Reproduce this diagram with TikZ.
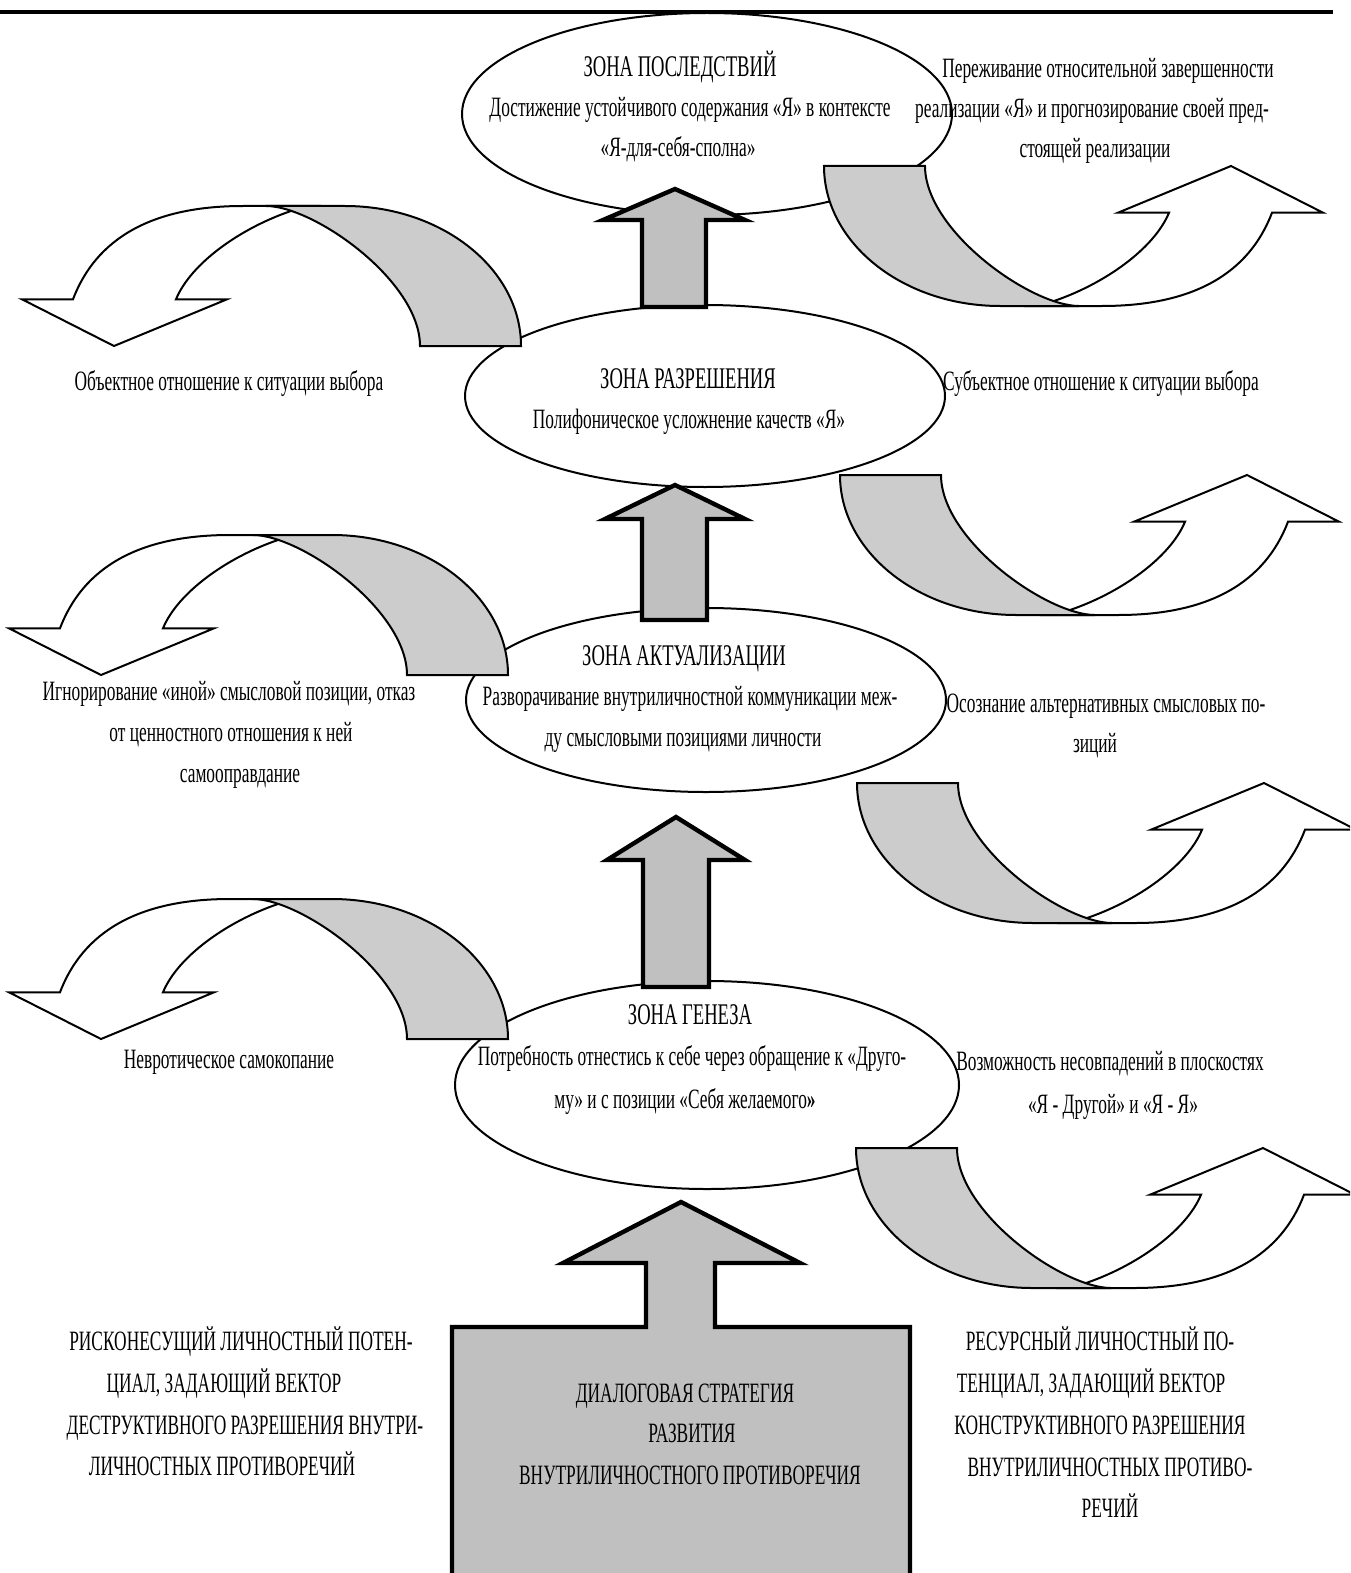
\documentclass[tikz,border=0pt]{standalone}
\usepackage{fontspec}
\setmainfont[FakeStretch=0.62]{Liberation Serif}
\usetikzlibrary{shapes.geometric}
\definecolor{arrgray}{HTML}{C0C0C0}
\definecolor{shadegray}{HTML}{CCCCCC}
\tikzset{
  zone/.style={draw, line width=1pt, ellipse, inner sep=0pt},
  txt/.style={anchor=base, inner sep=0pt, font=\fontsize{14}{16}\selectfont},
  ttl/.style={anchor=base, inner sep=0pt, font=\fontsize{15}{17}\selectfont},
  blockarr/.style={fill=arrgray, draw=black, line width=2.2pt, line join=miter},
  curvwhite/.style={fill=white, draw=black, line width=1pt},
  curvshade/.style={fill=shadegray, draw=black, line width=1pt},
  rcurv/.pic={
    \path[curvwhite] (230,135) .. controls (280,118) and (330,83) .. (345,46.7)
      -- (294,46.7) -- (407,0) -- (499,46.7) -- (448,46.7)
      .. controls (425,107) and (370,140) .. (278,140) -- (200,140) -- cycle;
    \path[curvshade] (0,0) -- (101,0) .. controls (101,65) and (207,140) .. (255,140)
      -- (176,140) .. controls (79,140) and (0,77) .. (0,0) -- cycle;
  }
}
\begin{document}
\begin{tikzpicture}[x=0.5pt,y=-0.5pt]
\useasboundingbox (0,0) rectangle (1350,1573);
\clip (0,0) rectangle (1350,1573);

% header rule
\coordinate (hl) at (0,12);
\coordinate (hr) at (1333,12);
\draw[line width=1.6pt] (hl) -- (hr);

% zones
\node[zone, minimum width=245pt, minimum height=101pt] (z1) at (707,114) {};
\node[zone, minimum width=240pt, minimum height=91pt] (z2) at (705,396) {};
\node[zone, minimum width=240pt, minimum height=92pt] (z3) at (706,700) {};
\node[zone, minimum width=252pt, minimum height=104pt] (z4) at (707,1085) {};

% curved arrows right
\pic at (824,166) {rcurv};
\pic at (840,475) {rcurv};
\pic at (857,783) {rcurv};
\pic at (856,1148) {rcurv};
% curved arrows left
\pic[rotate=180] at (521,346) {rcurv};
\pic[rotate=180] at (508,675) {rcurv};
\pic[rotate=180] at (508,1039) {rcurv};

% block arrows
\path[blockarr] (642,307) -- (642,220) -- (603,220) -- (675,189) -- (745,220) -- (706,220) -- (706,307) -- cycle;
\path[blockarr] (642,620) -- (642,519) -- (605,519) -- (675,485) -- (745,519) -- (707,519) -- (707,620) -- cycle;
\path[blockarr] (643,987) -- (643,860) -- (607,860) -- (676,817) -- (745,860) -- (709,860) -- (709,987) -- cycle;
\path[blockarr] (452,1600) -- (452,1327) -- (646,1327) -- (646,1263) -- (563,1263) -- (681,1202)
  -- (800,1263) -- (715,1263) -- (715,1327) -- (910,1327) -- (910,1600) -- cycle;

% texts zone 1
\node[ttl] (t1a) at (680,77) {ЗОНА ПОСЛЕДСТВИЙ};
\node[txt] (t1b) at (690,117) {Достижение устойчивого содержания «Я» в контексте};
\node[txt] (t1c) at (678,157) {«Я-для-себя-сполна»};
\node[txt] (r1a) at (1108,78) {Переживание относительной завершенности};
\node[txt] (r1b) at (1092,118) {реализации «Я»  и прогнозирование своей пред-};
\node[txt] (r1c) at (1095,158) {стоящей реализации};

% zone 2
\node[txt] (l2a) at (229,390) {Объектное отношение к ситуации выбора};
\node[ttl] (t2a) at (688,388) {ЗОНА РАЗРЕШЕНИЯ};
\node[txt] (t2b) at (689,428) {Полифоническое усложнение качеств «Я»};
\node[txt] (r2a) at (1101,390) {Субъектное отношение к ситуации выбора};

% zone 3
\node[txt] (l3a) at (229,700) {Игнорирование «иной» смысловой позиции, отказ};
\node[txt] (l3b) at (231,741) {от ценностного отношения к ней};
\node[txt] (l3c) at (240,782) {самооправдание};
\node[ttl] (t3a) at (684,665) {ЗОНА АКТУАЛИЗАЦИИ};
\node[txt] (t3b) at (690,705) {Разворачивание внутриличностной коммуникации меж-};
\node[txt] (t3c) at (683,746) {ду смысловыми позициями личности};
\node[txt] (r3a) at (1106,712) {Осознание альтернативных смысловых по-};
\node[txt] (r3b) at (1095,752) {зиций};

% zone 4
\node[txt] (l4a) at (229,1068) {Невротическое самокопание};
\node[ttl] (t4a) at (690,1024) {ЗОНА ГЕНЕЗА};
\node[txt] (t4b) at (692,1065) {Потребность отнестись к себе через обращение к «Друго-};
\node[txt] (t4c) at (685,1108) {му» и с позиции «Себя желаемого\textbf{»}};
\node[txt] (r4a) at (1110,1070) {Возможность несовпадений в плоскостях};
\node[txt] (r4b) at (1113,1113) {«Я - Другой» и «Я - Я»};

% bottom
\node[txt] (bl1) at (241,1350) {РИСКОНЕСУЩИЙ ЛИЧНОСТНЫЙ ПОТЕН-};
\node[txt] (bl2) at (224,1392) {ЦИАЛ, ЗАДАЮЩИЙ ВЕКТОР};
\node[txt] (bl3) at (245,1434) {ДЕСТРУКТИВНОГО РАЗРЕШЕНИЯ ВНУТРИ-};
\node[txt] (bl4) at (222,1475) {ЛИЧНОСТНЫХ ПРОТИВОРЕЧИЙ};
\node[txt] (bc1) at (685,1402) {ДИАЛОГОВАЯ СТРАТЕГИЯ};
\node[txt] (bc2) at (692,1442) {РАЗВИТИЯ};
\node[txt] (bc3) at (690,1484) {ВНУТРИЛИЧНОСТНОГО ПРОТИВОРЕЧИЯ};
\node[txt] (br1) at (1100,1350) {РЕСУРСНЫЙ ЛИЧНОСТНЫЙ ПО-};
\node[txt] (br2) at (1091,1392) {ТЕНЦИАЛ, ЗАДАЮЩИЙ ВЕКТОР};
\node[txt] (br3) at (1100,1434) {КОНСТРУКТИВНОГО РАЗРЕШЕНИЯ};
\node[txt] (br4) at (1110,1476) {ВНУТРИЛИЧНОСТНЫХ ПРОТИВО-};
\node[txt] (br5) at (1110,1517) {РЕЧИЙ};
\end{tikzpicture}
\end{document}
